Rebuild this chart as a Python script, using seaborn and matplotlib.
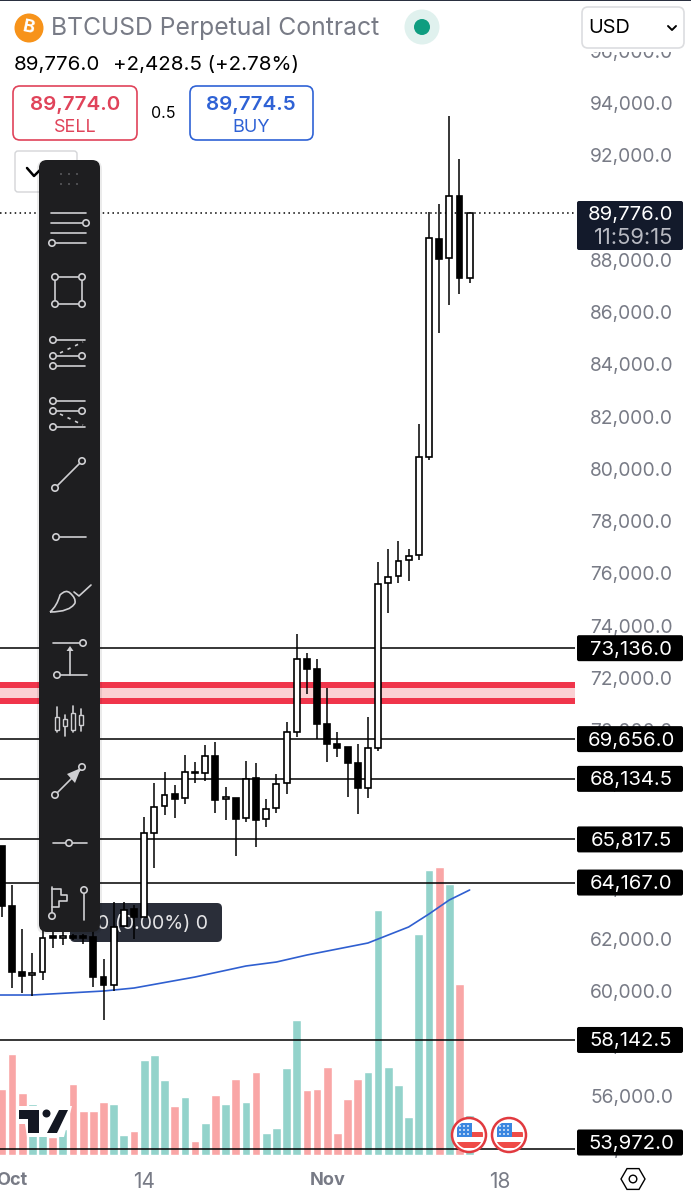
#!/usr/bin/env python3
"""BTCUSD perpetual daily candles with volume, levels and the mobile UI around them."""

import numpy as np
import pandas as pd
import matplotlib
matplotlib.use("Agg")
import matplotlib.pyplot as plt
from matplotlib.patches import Circle, FancyBboxPatch, PathPatch, Polygon, Rectangle, RegularPolygon
from matplotlib.path import Path
import seaborn as sns

# days counted from 1 Oct
days = list(range(-1, 46))
opens = [65566, 63269, 60744, 60629, 60744, 62121, 62045, 62121, 62121, 62083, 60552, 60246, 62504, 63154,
         62848, 66063, 67096, 67555, 67402, 68398, 68360, 69010, 67364, 67402, 66637, 68168, 66599, 67020,
         67977, 69929, 72722, 72340, 70235, 69469, 69354, 68742, 67785, 69316, 75630, 75898, 76511, 76702,
         80453, 88795, 88068, 90441, 87303]
closes = [63269, 60744, 60590, 60705, 62045, 62045, 62121, 62045, 62045, 60552, 60246, 62466, 63116, 62848,
          66063, 67058, 67517, 67364, 68398, 68360, 69010, 67326, 67440, 66599, 68130, 66561, 66982, 67939,
          69929, 72722, 72340, 70235, 69469, 69316, 68742, 67785, 69316, 75592, 75860, 76472, 76664, 80453,
          88834, 88030, 90441, 87303, 89776]
highs = [65566, 64073, 62389, 61471, 62542, 62275, 62275, 62200, 62200, 62350, 61242, 63423, 63423, 63308,
         66675, 67977, 68398, 67900, 69048, 68780, 69431, 69546, 67823, 67402, 68818, 68742, 67364, 68321,
         70309, 73679, 72952, 72722, 71612, 69929, 69354, 69469, 70503, 76434, 76932, 77238, 76932, 81716,
         89829, 90135, 93503, 91857, 89790]
lows = [62848, 60131, 59940, 59826, 60437, 61662, 61776, 61969, 61815, 60170, 58907, 60016, 62466, 62007,
        62848, 64724, 66752, 66637, 67173, 67977, 68053, 66829, 66561, 65183, 66484, 65528, 66293, 66829,
        67556, 69737, 71383, 69661, 68780, 68972, 67440, 66790, 67402, 69201, 74482, 75630, 75707, 76511,
        80338, 85198, 86270, 86691, 87112]
volumes = [66, 101, 62, 51, 37, 18, 26, 71, 44, 44, 53, 51, 20, 24, 95, 100, 75, 49, 58, 14, 32, 60, 51, 76,
           53, 83, 22, 27, 87, 135, 65, 66, 88, 22, 56, 76, 83, 245, 88, 70, 38, 221, 285, 288, 271, 171, 40]

ma_days = [-2, 2, 9, 12, 18, 23, 26, 29, 31, 35, 37, 39, 41, 42, 43, 44, 45]
ma_values = [59863, 59863, 60016, 60131, 60552, 60973, 61126, 61394, 61547, 61853, 62160, 62466, 62963, 63231,
             63499, 63690, 63882]

level_prices = [73136.0, 69656.0, 68134.5, 65817.5, 64167.0, 58142.5, 53972.0]
zone_edges = [71842, 71612, 71229, 70996]
last_price = 89776.0

price_ticks = list(range(54000, 98000, 2000))
date_ticks = [0, 13, 31, 48]
date_labels = ["Oct", "14", "Nov", "18"]
date_bold = [True, False, True, False]

W, H = 691, 1200
PANE_RIGHT, PANE_TOP, PANE_BOTTOM = 575, 40, 1156

GREY = "#787b86"
PANEL = "#1e1e20"
ICON = "#cfcfd2"

sns.set_theme(style="white")
plt.rcParams["font.family"] = ["Inter", "DejaVu Sans"]

fig = plt.figure(figsize=(W / 100, H / 100), dpi=100, facecolor="white")
rect = [0, 1 - PANE_BOTTOM / H, PANE_RIGHT / W, (PANE_BOTTOM - PANE_TOP) / H]

# volume sits underneath the price pane
axv = fig.add_axes(rect, zorder=1)
df_vol = pd.DataFrame({
    "day": days,
    "volume": volumes,
    "side": ["up" if c >= o else "down" for o, c in zip(opens, closes)],
})
sns.barplot(data=df_vol, x="day", y="volume", hue="side", native_scale=True, dodge=False,
            palette={"up": "#93d3cb", "down": "#f9a6a6"}, width=0.86, saturation=1,
            legend=False, ax=axv)
axv.set_ylim(-1, 1115)
axv.set_xlim(-1.18, 55.36)
axv.set_axis_off()

ax = fig.add_axes(rect, zorder=2)
ax.patch.set_alpha(0)
ax.set_xlim(-1.18, 55.36)
ax.set_ylim(53702, 96411)
sns.despine(ax=ax, left=True, bottom=True, right=True, top=True)

# full figure axes in pixels for everything that is app chrome
ui = fig.add_axes([0, 0, 1, 1], zorder=3)
ui.set_xlim(0, W)
ui.set_ylim(H, 0)
ui.patch.set_alpha(0)
ui.set_axis_off()


def price_to_px(price):
    y0, y1 = ax.get_ylim()
    return PANE_BOTTOM - (price - y0) / (y1 - y0) * (PANE_BOTTOM - PANE_TOP)


def rbox(x0, y0, x1, y1, fc, ec="none", lw=0, r=5, target=None, zorder=2):
    target = target or ui
    p = FancyBboxPatch((x0, y0), x1 - x0, y1 - y0, boxstyle=f"round,pad=0,rounding_size={r}",
                       fc=fc, ec=ec, lw=lw, zorder=zorder, transform=ui.transData, clip_on=False)
    target.add_patch(p)
    return p


def label(x, y, s, size=13, color="black", ha="left", weight="normal", zorder=5):
    ui.text(x, y, s, fontsize=size, color=color, ha=ha, va="center", fontweight=weight, zorder=zorder)


# ---- tooltip goes behind the candles
rbox(70, 903, 222, 942, "#2a2e39", r=5, target=ax, zorder=0.5)
ax.text(208, 924.5, "0 (0.00%) 0", fontsize=14, color="#e4e4e6", ha="right", va="center",
        transform=ui.transData, zorder=0.6)

# ---- levels and zone
ax.axhspan(zone_edges[1], zone_edges[0], color="#f0354b", lw=0, zorder=1)
ax.axhspan(zone_edges[2], zone_edges[1], color="#fbd0d3", lw=0, zorder=1)
ax.axhspan(zone_edges[3], zone_edges[2], color="#f0354b", lw=0, zorder=1)
for lvl in level_prices:
    ax.axhline(lvl, color="black", lw=1.1, zorder=1.5)
ax.axhline(last_price, color="black", lw=1.1, ls=(0, (1, 2.2)), zorder=1.5)

# ---- MA
sns.lineplot(x=ma_days, y=ma_values, color="#2f5fd0", lw=1.2, ax=ax, zorder=2, errorbar=None)

# ---- candles
d = np.array(days)
o = np.array(opens)
c = np.array(closes)
ax.vlines(d, lows, highs, color="black", lw=1.1, zorder=3)
ax.bar(d, np.abs(c - o), bottom=np.minimum(o, c), width=0.58,
       color=["white" if ci >= oi else "black" for oi, ci in zip(o, c)],
       edgecolor="black", linewidth=1.2, zorder=4)

# ---- axis ticks
ax.yaxis.tick_right()
ax.set_yticks(price_ticks)
ax.set_yticklabels([f"{v:,.1f}" for v in price_ticks], fontsize=13.8, color=GREY)
ax.tick_params(axis="y", length=0, pad=10.8)
ax.set_xticks(date_ticks)
ax.set_xticklabels(date_labels, fontsize=15, color=GREY)
ax.tick_params(axis="x", length=0, pad=11.5)
for tl, bold in zip(ax.get_xticklabels(), date_bold):
    if bold:
        tl.set_fontweight("bold")
        tl.set_fontsize(13)
ax.set_xlabel("")
ax.set_ylabel("")

# ---- boxes on the price scale
for lvl in level_prices:
    yc = min(price_to_px(lvl), 1142.5)
    rbox(577, yc - 13, 683, yc + 13, "black", r=2)
    label(631, yc + 1.5, f"{lvl:,.1f}", size=14.6, color="white", ha="center")
rbox(577, 201, 683, 250, "#131a2b", r=2)
label(673, 215, f"{last_price:,.1f}", size=14.6, color="white", ha="right")
label(673, 238, "11:59:15", size=15.8, color="#b8bac2", ha="right")

# ---- header
ui.add_patch(Rectangle((0, 0), W, 52, fc="white", ec="none", zorder=1))
ui.add_patch(Rectangle((0, 0), W, 1.2, fc="#2a3040", ec="none", zorder=2))
ui.add_patch(Circle((29, 28), 14.5, fc="#f7931a", ec="none", zorder=2))
ui.text(29, 28, "B", fontsize=13, color="white", fontweight="bold", ha="center", va="center",
        rotation=-12, zorder=3)
label(51, 28, "BTCUSD Perpetual Contract", size=17.8, color=GREY)
ui.add_patch(Circle((422, 27), 17.5, fc="#e0f1ee", ec="none", zorder=2))
ui.add_patch(Circle((422, 27), 8, fc="#0f9d80", ec="none", zorder=3))
rbox(582, 7, 684, 48, "white", ec="#dcdde0", lw=1.2, r=6)
label(588, 28, "USD", size=14.3)
ui.plot([668, 672, 676], [26, 30, 26], color="black", lw=1.4, zorder=3)

label(14, 65, "89,776.0", size=14.8)
label(113, 65, "+2,428.5 (+2.78%)", size=14.8)

rbox(13, 86, 137, 140, "white", ec="#e0435a", lw=1.2, r=7)
label(75, 104.5, "89,774.0", size=14.8, color="#e0435a", ha="center", weight="semibold")
label(75, 127.5, "SELL", size=13, color="#e0435a", ha="center")
label(163, 114, "0.5", size=11.5, ha="center")
rbox(190, 86, 313, 140, "white", ec="#2f62d5", lw=1.2, r=7)
label(251, 104.5, "89,774.5", size=14.8, color="#2f62d5", ha="center", weight="semibold")
label(251, 127.5, "BUY", size=13, color="#2f62d5", ha="center")

rbox(15, 151, 77, 192, "white", ec="#d4d5d8", lw=1.0, r=3)
ui.plot([27, 34, 42], [168, 176, 168], color="black", lw=1.8, zorder=3)

# ---- TradingView logo
ui.add_patch(Polygon([(19, 1106), (72, 1106), (64, 1137), (27, 1137), (25, 1124), (17, 1124)],
                     fc="white", ec="none", zorder=2))
logo = "#131722"
ui.add_patch(Polygon([(19, 1110), (39, 1110), (39, 1133), (28, 1133), (28, 1119), (19, 1119)], fc=logo, ec="none", zorder=3))
ui.add_patch(Circle((46.5, 1113.5), 4, fc=logo, ec="none", zorder=3))
ui.add_patch(Polygon([(59, 1110), (68, 1110), (57, 1133), (47, 1133)], fc=logo, ec="none", zorder=3))

# ---- event flags
for cx in [469, 509]:
    ui.add_patch(Circle((cx, 1135), 17, fc="white", ec="#e13a3f", lw=1.8, zorder=3))
    clip = Circle((cx, 1135), 14, transform=ui.transData)
    for x, y, w, h, col in [(cx - 12, 1123, 15, 14, "#3a86e0"), (cx + 3, 1132, 11, 5, "#ef4b47"),
                            (cx - 14, 1142, 28, 6, "#ef4b47")]:
        r_ = ui.add_patch(Rectangle((x, y), w, h, fc=col, ec="none", zorder=4))
        r_.set_clip_path(clip)
    for dx, dy in [(-9, 1126), (-5, 1126), (-1, 1126), (-9, 1130), (-5, 1130), (-1, 1130), (-9, 1134), (-5, 1134), (-1, 1134)]:
        ui.add_patch(Circle((cx + dx, dy), 0.9, fc="white", ec="none", zorder=5))

# ---- settings hexagon
ui.add_patch(RegularPolygon((633, 1179), 6, radius=12, orientation=np.pi / 6, fc="white", ec="black", lw=1.0, zorder=3))
ui.add_patch(Circle((633, 1179), 3.8, fc="white", ec="black", lw=1.0, zorder=4))

# ---- drawing toolbar
rbox(37, 160, 102, 934, "#000000", r=9, zorder=6).set_alpha(0.08)
rbox(39, 160, 100, 932, PANEL, r=8, zorder=7)
Z = 8


def line(xs, ys, ls="-", lw=1.2):
    ui.plot(xs, ys, color=ICON, lw=lw, ls=ls, zorder=Z, solid_capstyle="round")


def knob(x, y, r=3.2):
    ui.add_patch(Circle((x, y), r, fc=PANEL, ec=ICON, lw=1.2, zorder=Z + 1))


for gx in [61, 69, 77]:
    for gy in [174, 184]:
        ui.add_patch(Circle((gx, gy), 1.0, fc="#5a5a5e", ec="none", zorder=Z))

# parallel lines
for yy in [213, 223, 233, 243]:
    line([51, 86], [yy, yy])
knob(86, 223)
knob(52, 243)
# rectangle
line([55, 82, 82, 55, 55], [277, 277, 304, 304, 277])
for kx, ky in [(55, 277), (82, 277), (55, 304), (82, 304)]:
    knob(kx, ky)
# pitchfork up
for yy in [340, 356, 366]:
    line([53, 85], [yy, yy])
line([60, 83], [353, 342], ls=(0, (2, 3)))
for kx, ky in [(53, 340), (53, 356), (82, 356), (53, 366)]:
    knob(kx, ky)
# pitchfork down
for yy in [401, 411, 427]:
    line([53, 85], [yy, yy])
line([60, 83], [414, 425], ls=(0, (2, 3)))
for kx, ky in [(53, 401), (53, 411), (82, 411), (53, 427)]:
    knob(kx, ky)
# trend line
line([55, 82], [488, 461])
knob(55, 488)
knob(82, 461)
# ray
line([56, 86], [537, 537])
knob(56, 537)
# brush
brush = Path([(50, 612), (57, 606), (60, 595), (66, 589), (70, 593), (76, 598), (75, 603), (70, 612), (50, 612)],
             [Path.MOVETO, Path.CURVE3, Path.CURVE3, Path.CURVE3, Path.CURVE3, Path.CURVE3, Path.CURVE3, Path.CURVE3, Path.CURVE3])
ui.add_patch(PathPatch(brush, fc="none", ec=ICON, lw=1.2, zorder=Z))
line([74, 79, 91], [592, 596, 585])
# measure
line([53, 83], [643, 643])
line([57, 87], [675, 675])
line([70, 70], [675, 649])
ui.add_patch(Polygon([(70, 646), (66.5, 651), (73.5, 651)], fc=ICON, ec="none", zorder=Z))
knob(83, 643)
knob(57, 675)
# candles icon
for cx, wt, wb, bt, bb in [(57, 707, 732, 717, 730), (65, 715, 736, 719, 726), (73, 706, 732, 713, 730), (81, 709, 731, 715, 725)]:
    line([cx, cx], [wt, wb])
    ui.add_patch(Rectangle((cx - 2.2, bt), 4.4, bb - bt, fc=PANEL, ec=ICON, lw=1.0, zorder=Z + 1))
# arrow
line([55, 80], [795, 770])
ui.add_patch(Polygon([(81, 768), (67, 774), (75, 783)], fc=ICON, ec="none", zorder=Z))
knob(55, 795)
knob(82, 767)
# horizontal line
line([53, 87], [843, 843])
knob(69, 843)
# volume profile and vertical line
line([52, 52], [887, 913])
line([52, 61, 61, 67, 67, 59, 59, 52], [889, 889, 895, 895, 901, 901, 907, 907])
knob(52, 916)
line([84, 84], [893, 920])
knob(84, 890)

fig.savefig("out.png", dpi=100, facecolor="white")
